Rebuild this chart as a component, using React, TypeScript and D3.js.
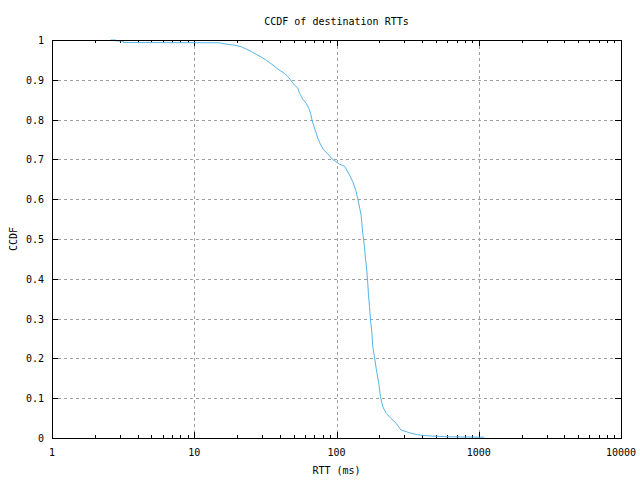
import React from "react";
import * as d3 from "d3";

const rtt = [2.59, 2.81, 2.81, 3.17, 3.17, 14.93, 17.27, 19.24, 21.44, 23.24, 25.19, 27.33, 29.63, 32.12, 34.83, 37.76, 39.84, 43.2, 45.5, 47.3, 49.4, 53.5, 55.0, 58.0, 61.3, 63.9, 65.7, 67.1, 69.0, 71.3, 74.0, 76.9, 81.1, 86.9, 93.3, 100.5, 105.0, 113.8, 118.1, 123.3, 130.1, 137.4, 143.3, 148.9, 153.0, 157.1, 159.8, 163.2, 165.9, 167.8, 170.6, 173.4, 177.1, 179.9, 184.9, 190.1, 198.3, 203.7, 211.4, 223.3, 242.1, 262.4, 284.4, 308.3, 334.2, 372.1, 462.2, 620.9, 1093];
const ccdf = [1.0, 1.0, 0.9975, 0.9975, 0.9937, 0.993, 0.989, 0.987, 0.983, 0.977, 0.971, 0.964, 0.957, 0.949, 0.94, 0.93, 0.924, 0.916, 0.908, 0.901, 0.891, 0.879, 0.866, 0.851, 0.841, 0.828, 0.816, 0.801, 0.786, 0.77, 0.753, 0.739, 0.724, 0.714, 0.701, 0.693, 0.688, 0.683, 0.673, 0.661, 0.644, 0.619, 0.59, 0.56, 0.514, 0.481, 0.452, 0.422, 0.389, 0.359, 0.33, 0.296, 0.267, 0.229, 0.204, 0.175, 0.137, 0.104, 0.079, 0.062, 0.049, 0.037, 0.02, 0.016, 0.012, 0.008, 0.005, 0.003, 0.002];

const xTicks = [1, 10, 100, 1000, 10000];
const yTicks = [0, 0.1, 0.2, 0.3, 0.4, 0.5, 0.6, 0.7, 0.8, 0.9, 1];

const W = 640, H = 480;
const L = 52, R = 621, T = 40, B = 438;
const FONT = "'DejaVu Sans Mono', 'Liberation Mono', monospace";

export default function App() {
  const x = d3.scaleLog().domain([1, 10000]).range([L, R]);
  const y = d3.scaleLinear().domain([0, 1]).range([B, T]);
  const minor: number[] = [];
  for (let d = 1; d < 10000; d *= 10) for (let k = 2; k <= 9; k++) minor.push(d * k);
  const pts = rtt.map((r, i) => [r, ccdf[i]] as [number, number]);
  const line = d3.line<[number, number]>().x(d => x(d[0])).y(d => y(d[1]));
  const fmtY = (v: number) => (v === 0 ? "0" : v === 1 ? "1" : v.toFixed(1));
  const c = (v: number) => Math.round(v) + 0.5;
  return (
    <svg width={W} height={H} style={{ position: "fixed", left: 0, top: 0, background: "#fff" }} fontFamily={FONT} fontSize={10}>
      <rect x={0} y={0} width={W} height={H} fill="#fff" />
      {/* grid */}
      <g stroke="#a0a0a0" strokeWidth={1} strokeDasharray="3,3" shapeRendering="crispEdges">
        {xTicks.slice(1, -1).map(t => (
          <line key={"gx" + t} x1={c(x(t))} x2={c(x(t))} y1={T} y2={B} />
        ))}
        {yTicks.slice(1, -1).map(t => (
          <line key={"gy" + t} x1={L} x2={R} y1={c(y(t))} y2={c(y(t))} />
        ))}
      </g>
      {/* ticks */}
      <g stroke="#000" strokeWidth={1} shapeRendering="crispEdges">
        {xTicks.map(t => (
          <g key={"tx" + t}>
            <line x1={c(x(t))} x2={c(x(t))} y1={B} y2={B - 6} />
            <line x1={c(x(t))} x2={c(x(t))} y1={T} y2={T + 6} />
          </g>
        ))}
        {minor.map(t => (
          <g key={"mx" + t}>
            <line x1={c(x(t))} x2={c(x(t))} y1={B} y2={B - 3} />
            <line x1={c(x(t))} x2={c(x(t))} y1={T} y2={T + 3} />
          </g>
        ))}
        {yTicks.map(t => (
          <g key={"ty" + t}>
            <line x1={L} x2={L + 6} y1={c(y(t))} y2={c(y(t))} />
            <line x1={R} x2={R - 6} y1={c(y(t))} y2={c(y(t))} />
          </g>
        ))}
      </g>
      {/* data */}
      <path d={line(pts) || ""} fill="none" stroke="#56b4e9" strokeWidth={1} />
      {/* border */}
      <rect x={L + 0.5} y={T + 0.5} width={R - L} height={B - T} fill="none" stroke="#000" strokeWidth={1} shapeRendering="crispEdges" />
      {/* labels */}
      <g fill="#000">
        {yTicks.map(t => (
          <text key={"ly" + t} x={44} y={y(t) + 4} textAnchor="end">{fmtY(t)}</text>
        ))}
        {xTicks.map(t => (
          <text key={"lx" + t} x={x(t)} y={456} textAnchor="middle">{String(t)}</text>
        ))}
        <text x={(L + R) / 2} y={25} textAnchor="middle">CCDF of destination RTTs</text>
        <text x={(L + R) / 2} y={474} textAnchor="middle">RTT (ms)</text>
        <text transform={`translate(17, ${(T + B) / 2}) rotate(-90)`} textAnchor="middle">CCDF</text>
      </g>
    </svg>
  );
}
